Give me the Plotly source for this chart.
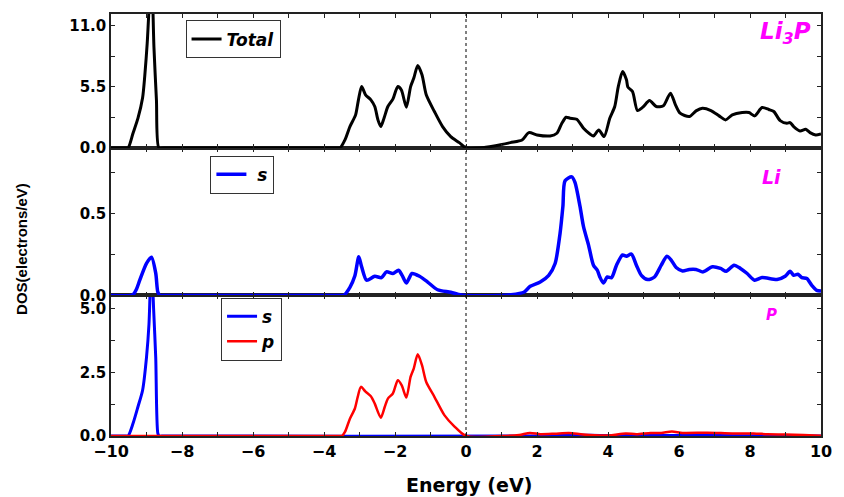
import plotly.graph_objects as go

# ---------------- data ----------------
E_tot = [-10, -9.6, -9.52, -9.38, -9.24, -9.11, -9.05, -8.98, -8.86, -8.79, -8.72, -8.65, -8.5,
         -3.6, -3.55, -3.41, -3.27, -3.11, -3.03, -2.94, -2.83, -2.68, -2.57, -2.48, -2.40, -2.31,
         -2.20, -2.06, -1.92, -1.82, -1.68, -1.56, -1.47, -1.36, -1.24, -1.12, -0.89, -0.66, -0.43,
         -0.19, 0, 0.41, 0.79, 1.25, 1.58, 1.77, 2.0, 2.37, 2.56, 2.70, 2.82, 2.93, 3.12, 3.31, 3.49,
         3.59, 3.74, 3.89, 4.05, 4.19, 4.29, 4.41, 4.52, 4.56, 4.69, 4.83, 4.98, 5.17, 5.36, 5.56,
         5.76, 5.90, 6.03, 6.29, 6.48, 6.66, 6.90, 7.13, 7.31, 7.50, 7.78, 7.97, 8.13, 8.34, 8.53,
         8.67, 8.85, 9.04, 9.13, 9.23, 9.41, 9.57, 9.69, 9.85, 10]
dos_tot = [0, 0, 0, 1.32, 2.67, 4.5, 6.4, 9.4, 16.0, 9.0, 4.3, 0, 0,
           0, 0, 0.72, 1.92, 2.97, 4.32, 5.51, 4.77, 4.32, 3.72, 2.52, 1.92, 2.67,
           3.72, 4.38, 5.51, 5.2, 3.66, 5.51, 6.27, 7.40, 6.57, 4.77, 3.27, 1.92, 1.02,
           0.48, 0, 0, 0.18, 0.48, 0.72, 1.38, 1.17, 1.08, 1.32, 2.22, 2.76, 2.67, 2.58, 1.77, 1.26,
           1.08, 1.62, 1.02, 2.67, 3.72, 5.51, 6.86, 6.12, 5.46, 5.06, 3.36, 3.66, 4.25, 3.72, 3.78,
           4.92, 3.87, 3.12, 2.82, 3.33, 3.57, 3.36, 2.88, 2.52, 2.97, 3.18, 3.18, 2.88, 3.63, 3.45,
           3.27, 2.46, 2.22, 2.28, 1.92, 1.53, 1.68, 1.38, 1.17, 1.26]

E_li = [-10, -9.45, -9.38, -9.28, -9.19, -9.0, -8.86, -8.74, -8.68, -8.62, -8.5,
        -3.5, -3.45, -3.27, -3.13, -3.02, -2.94, -2.80, -2.57, -2.38, -2.24, -2.06, -1.90, -1.80,
        -1.68, -1.52, -1.31, -1.08, -0.80, -0.43, -0.16, 0, 1.0, 1.25, 1.63, 1.81, 2.09, 2.33, 2.51,
        2.65, 2.73, 2.79, 2.98, 3.07, 3.21, 3.31, 3.45, 3.59, 3.70, 3.77, 3.87, 3.98, 4.10, 4.24,
        4.41, 4.52, 4.66, 4.80, 4.94, 5.12, 5.31, 5.50, 5.66, 5.78, 5.92, 6.10, 6.29, 6.48, 6.68,
        6.94, 7.17, 7.33, 7.55, 7.73, 7.92, 8.13, 8.34, 8.76, 8.99, 9.13, 9.23, 9.35, 9.46, 9.60,
        9.74, 9.88, 10]
dos_li_s = [0, 0, 0.005, 0.04, 0.093, 0.196, 0.233, 0.136, 0.02, 0, 0,
            0, 0, 0.05, 0.12, 0.236, 0.175, 0.093, 0.117, 0.109, 0.144, 0.134, 0.154, 0.123,
            0.076, 0.134, 0.117, 0.082, 0.035, 0.02, 0.004, 0, 0, 0.004, 0.02, 0.056, 0.082, 0.123, 0.195,
            0.38, 0.545, 0.70, 0.724, 0.69, 0.545, 0.42, 0.309, 0.185, 0.154, 0.113, 0.076, 0.113, 0.109, 0.185,
            0.247, 0.24, 0.253, 0.185, 0.123, 0.097, 0.113, 0.185, 0.24, 0.216, 0.171, 0.15, 0.159, 0.159, 0.144,
            0.175, 0.165, 0.148, 0.185, 0.165, 0.134, 0.093, 0.109, 0.097, 0.117, 0.148, 0.123, 0.13, 0.109, 0.103,
            0.062, 0.031, 0.027]

E_ps = [-10, -9.6, -9.52, -9.38, -9.24, -9.11, -9.0, -8.93, -8.86, -8.80, -8.74, -8.68, -8.64, -8.5,
        2.0, 2.5, 3.0, 3.5, 4.0, 5.0, 6.0, 8.0, 10]
dos_p_s = [0, 0, 0, 0.49, 1.15, 1.80, 3.09, 4.40, 7.0, 5.0, 3.09, 0.10, 0, 0,
           0, 0.02, 0.04, 0.03, 0.02, 0.02, 0.02, 0.01, 0.0]

E_pp = [-10, -3.55, -3.50, -3.41, -3.27, -3.13, -3.05, -2.96, -2.83, -2.68, -2.57, -2.40, -2.29,
        -2.20, -2.06, -1.92, -1.81, -1.68, -1.56, -1.47, -1.36, -1.24, -1.12, -0.89, -0.61, -0.33, 0,
        1.0, 1.5, 1.8, 2.1, 2.5, 2.9, 3.3, 3.9, 4.1, 4.5, 4.8, 5.2, 5.5, 5.8, 6.1, 6.8, 7.5, 8.1, 8.5,
        9.0, 9.5, 10]
dos_p_p = [0, 0, 0, 0.16, 0.68, 1.08, 1.54, 1.93, 1.74, 1.56, 1.27, 0.72, 1.14,
           1.47, 1.67, 2.19, 1.99, 1.51, 2.33, 2.66, 3.21, 2.78, 2.12, 1.54, 0.82, 0.38, 0,
           0, 0.04, 0.12, 0.07, 0.09, 0.12, 0.06, 0.02, 0.03, 0.10, 0.07, 0.12, 0.12, 0.18, 0.12, 0.13,
           0.10, 0.10, 0.07, 0.06, 0.04, 0.01]

assert len(E_tot) == len(dos_tot)
assert len(E_li) == len(dos_li_s)
assert len(E_ps) == len(dos_p_s)
assert len(E_pp) == len(dos_p_p)

x_ticks = [-10, -8, -6, -4, -2, 0, 2, 4, 6, 8, 10]
top_ticks = [0.0, 5.5, 11.0]
mid_ticks = [0.0, 0.5]
bot_ticks = [0.0, 2.5, 5.0]

# ---------------- figure ----------------
AX = "#222222"
TICKFONT_X = dict(family="DejaVu Sans", size=16, color="black", weight="bold")
TICKFONT_Y = dict(family="DejaVu Sans", size=15, color="black", weight="bold")
LEGFONT = dict(family="DejaVu Sans", size=17, color="black", weight="bold", style="italic")
LBLFONT = dict(family="DejaVu Sans", color="#FF00FF", weight="bold", style="italic")
SM = 0.7

fig = go.Figure()
fig.add_trace(go.Scatter(x=E_tot, y=dos_tot, mode="lines", name="Total",
                         line=dict(color="black", width=3, shape="spline", smoothing=SM),
                         xaxis="x3", yaxis="y3", legend="legend"))
fig.add_trace(go.Scatter(x=E_li, y=dos_li_s, mode="lines", name="\u00a0s",
                         line=dict(color="#0000FF", width=3.5, shape="spline", smoothing=SM),
                         xaxis="x2", yaxis="y2", legend="legend2"))
fig.add_trace(go.Scatter(x=E_ps, y=dos_p_s, mode="lines", name="s",
                         line=dict(color="#0000FF", width=3, shape="spline", smoothing=SM),
                         xaxis="x", yaxis="y", legend="legend3"))
fig.add_trace(go.Scatter(x=E_pp, y=dos_p_p, mode="lines", name="p",
                         line=dict(color="#FF0000", width=2.5, shape="spline", smoothing=SM),
                         xaxis="x", yaxis="y", legend="legend3"))

xcommon = dict(range=[-10, 10], tickvals=x_ticks, ticks="inside", ticklen=4, tickwidth=1,
               tickcolor=AX, showline=True, linecolor=AX, linewidth=1.5, mirror="ticks",
               showgrid=False, zeroline=False,
               minor=dict(dtick=1, ticks="inside", ticklen=4, tickcolor=AX, showgrid=False))
ycommon = dict(ticks="inside", ticklen=4, tickwidth=1, tickcolor=AX, showline=True,
               linecolor=AX, linewidth=1.5, mirror="ticks", showgrid=False, zeroline=False,
               tickfont=TICKFONT_Y, tickformat=".1f")

fig.update_layout(
    width=844, height=497,
    margin=dict(l=111, r=18, t=14, b=61),
    paper_bgcolor="white", plot_bgcolor="white",
    xaxis=dict(**xcommon, domain=[0, 1], anchor="y", tickfont=TICKFONT_X, showticklabels=True),
    xaxis2=dict(**xcommon, domain=[0, 1], anchor="y2", matches="x", showticklabels=False),
    xaxis3=dict(**xcommon, domain=[0, 1], anchor="y3", matches="x", showticklabels=False),
    yaxis=dict(**ycommon, domain=[0, 0.333], range=[0, 5.52], tickvals=bot_ticks,
               minor=dict(dtick=1.25, tick0=0, ticks="inside", ticklen=4, tickcolor=AX)),
    yaxis2=dict(**ycommon, domain=[0.333, 0.6825], range=[0, 0.9], tickvals=mid_ticks,
                minor=dict(dtick=0.25, tick0=0, ticks="inside", ticklen=4, tickcolor=AX)),
    yaxis3=dict(**ycommon, domain=[0.6825, 1], range=[0, 12.02], tickvals=top_ticks,
                minor=dict(dtick=2.75, tick0=0, ticks="inside", ticklen=4, tickcolor=AX)),
    legend=dict(x=0.105, y=0.985, xanchor="left", yanchor="top", bordercolor="#333",
                borderwidth=1, bgcolor="white", font=LEGFONT, tracegroupgap=0),
    legend2=dict(x=0.140, y=0.664, xanchor="left", yanchor="top", bordercolor="#333",
                 borderwidth=1, bgcolor="white", font=LEGFONT, tracegroupgap=0),
    legend3=dict(x=0.155, y=0.328, xanchor="left", yanchor="top", bordercolor="#333",
                 borderwidth=1, bgcolor="white", font=LEGFONT, tracegroupgap=0),
    showlegend=True,
)

fig.add_shape(type="line", xref="x", yref="paper", x0=0, x1=0, y0=0, y1=1,
              line=dict(color="black", width=1, dash="3px,3px"))

fig.add_annotation(text="Li<sub>3</sub>P", xref="paper", yref="paper", x=0.950, y=0.955,
                   xanchor="center", yanchor="middle",
                   showarrow=False, font=dict(size=23, **LBLFONT))
fig.add_annotation(text="Li", xref="paper", yref="paper", x=0.930, y=0.614,
                   xanchor="center", yanchor="middle",
                   showarrow=False, font=dict(size=19, **LBLFONT))
fig.add_annotation(text="P", xref="paper", yref="paper", x=0.930, y=0.287,
                   xanchor="center", yanchor="middle",
                   showarrow=False, font=dict(size=15, **LBLFONT))
fig.add_annotation(text="Energy (eV)", xref="paper", yref="paper", x=0.504, y=-0.116,
                   xanchor="center", yanchor="middle",
                   showarrow=False, font=dict(family="DejaVu Sans", size=19, color="black", weight="bold"))
fig.add_annotation(text="DOS(electrons/eV)", xref="paper", yref="paper", x=-0.127, y=0.443,
                   xanchor="center", yanchor="middle", textangle=-90, showarrow=False,
                   font=dict(family="Liberation Sans", size=15, color="black", weight="bold"))

fig.write_html("out.html")
